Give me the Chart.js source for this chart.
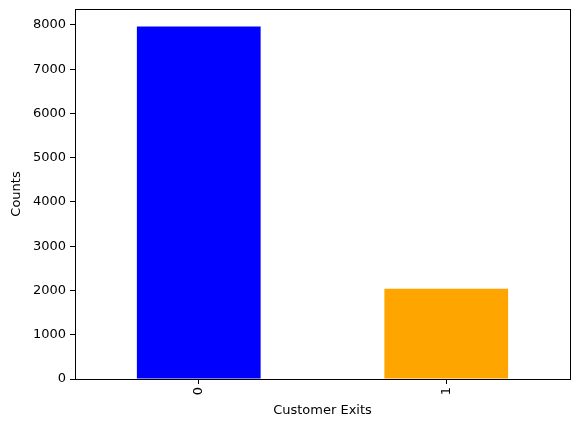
<!DOCTYPE html>
<html>
<head>
<meta charset="utf-8">
<script src="https://cdn.jsdelivr.net/npm/chart.js@4"></script>
<style>
  html, body { margin: 0; padding: 0; background: #fff; }
  #wrap { width: 580px; height: 427px; }
</style>
</head>
<body>
<div id="wrap"><canvas id="c" width="580" height="427"></canvas></div>
<script>
const categories = ['0', '1'];
const counts = [7963, 2037];
const barColors = ['#0000ff', '#ffa500'];
const yTicks = [0, 1000, 2000, 3000, 4000, 5000, 6000, 7000, 8000];

// frame round the plot area, like matplotlib's spines
const frame = {
    id: 'frame',
    afterDatasetsDraw(chart) {
        const { ctx, chartArea: a } = chart;
        ctx.save();
        ctx.strokeStyle = '#000';
        ctx.lineWidth = 1;
        ctx.strokeRect(Math.round(a.left) + 0.5, Math.round(a.top) + 0.5,
            Math.round(a.right - a.left), Math.round(a.bottom - a.top));
        ctx.restore();
    }
};

const font = { family: 'DejaVu Sans', size: 13 };

new Chart(document.getElementById('c').getContext('2d'), {
    type: 'bar',
    data: {
        labels: categories,
        datasets: [{
            data: counts,
            backgroundColor: barColors,
            borderWidth: 0,
            barPercentage: 0.5,
            categoryPercentage: 1
        }]
    },
    options: {
        responsive: false,
        animation: false,
        devicePixelRatio: 1,
        layout: { padding: { top: 9, right: 10, left: 0, bottom: 0 } },
        plugins: { legend: { display: false }, tooltip: { enabled: false } },
        scales: {
            x: {
                grid: { offset: false, drawOnChartArea: false, drawTicks: true, tickLength: 5, color: '#000' },
                border: { color: '#000' },
                ticks: { color: '#000', font, minRotation: 90, maxRotation: 90, padding: 3 },
                title: { display: true, text: 'Customer Exits', color: '#000', font, padding: { top: 2, bottom: 9 } },
                afterFit(scale) { scale.height = 48; }
            },
            y: {
                min: 0,
                max: 8361,
                grid: { drawOnChartArea: false, drawTicks: true, tickLength: 5, color: '#000' },
                border: { color: '#000' },
                afterBuildTicks(scale) { scale.ticks = yTicks.map(v => ({ value: v })); },
                ticks: { color: '#000', font, padding: 4, callback: v => String(v) },
                title: { display: true, text: 'Counts', color: '#000', font, padding: { top: 9, bottom: 4 } },
                afterFit(scale) {
                    scale.width = 75;
                    scale.paddingTop = 0;
                    scale.paddingBottom = 0;
                }
            }
        }
    },
    plugins: [frame]
});
</script>
</body>
</html>
